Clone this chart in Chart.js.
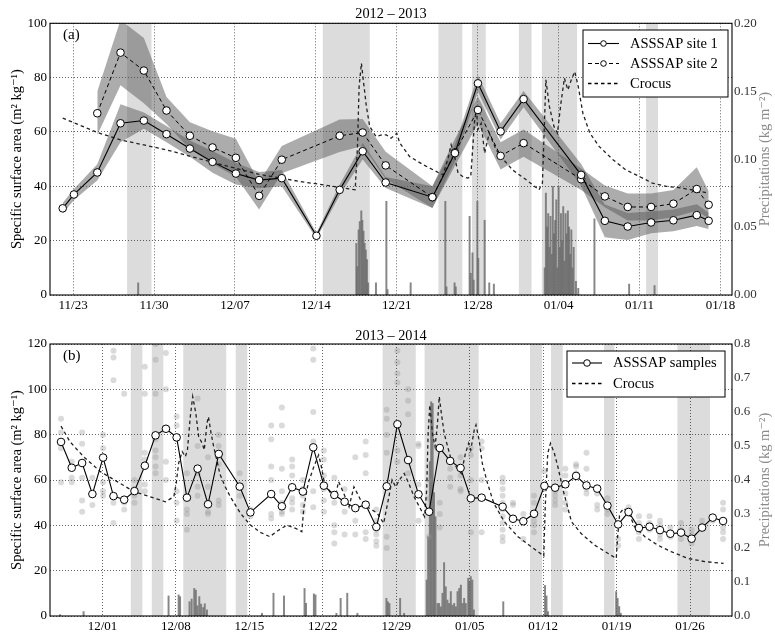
<!DOCTYPE html>
<html><head><meta charset="utf-8">
<script src="https://cdn.jsdelivr.net/npm/chart.js@4.4.1/dist/chart.umd.min.js"></script>
<style>
html,body{margin:0;padding:0;background:#fff;}
#wrap{position:relative;width:775px;height:633px;overflow:hidden;}
canvas{position:absolute;left:0;}
#ca{top:0;} #cb{top:315px;}
</style></head><body>
<div id="wrap"><canvas id="ca" width="775" height="315"></canvas><canvas id="cb" width="775" height="318"></canvas></div>
<script>
// ---------- Panel (a) 2012-2013 : day 0 = 21 Nov 2012 ----------
const tickDaysA = [2, 9, 16, 23, 30, 37, 44, 51, 58];
const tickLabelsA = ['11/23','11/30','12/07','12/14','12/21','12/28','01/04','01/11','01/18'];
const site1Days = [1.1,2.07,4.09,6.1,8.12,10.08,12.1,14.06,16.08,18.09,20.05,23.05,25.06,27.05,29.04,33.08,35.03,37.02,38.98,40.97,45.95,48.0,49.98,52.0,53.93,55.95,56.98];
const site1Vals = [31.9,37.0,45.1,63.2,64.2,59.2,53.9,49.0,44.7,42.3,43.0,21.8,38.7,52.9,41.4,36.0,52.2,77.9,60.2,72.1,44.2,27.3,25.2,26.7,27.5,29.4,27.3];
const site1Err  = [2,2,3,7,3,3,3,4,4,3,3,1,2,3,2,4,3,3,3,3,4,6,5,4,4,4,3];
const site2Days = [4.09,6.1,8.12,10.08,12.1,14.06,16.08,18.09,20.05,25.06,27.05,29.04,33.08,35.03,37.02,38.98,40.97,45.95,48.0,49.98,52.0,53.93,55.95,56.98];
const site2Vals = [66.9,89.2,82.6,67.9,58.6,54.3,50.5,36.5,49.8,58.6,59.8,47.7,36.0,52.5,68.1,51.2,55.9,42.6,36.3,32.4,32.4,33.6,39.0,33.2];
const site2Err  = [8,12,12,5,5,6,7,5,5,6,5,5,4,5,5,5,5,4,4,5,5,5,8,5];
const crocusA = [[1.1,65.1],[4.1,59.8],[6.1,57.1],[10.1,53.4],[14.1,48.8],[18.1,44.4],[21.6,41.8],[24.5,40.0],[26.4,38.7],[26.6,54.7],[26.74,76.7],[26.94,85.3],[27.1,79.2],[27.37,69.4],[27.66,62.0],[28.2,58.3],[28.7,58.9],[29.1,58.9],[29.5,57.7],[30.0,59.5],[30.25,56.0],[31.1,51.0],[32.3,47.9],[33.4,45.5],[34.0,44.2],[34.4,49.8],[34.7,55.3],[35.0,51.0],[35.3,44.9],[35.7,43.6],[36.15,43.0],[36.4,43.6],[36.74,64.5],[36.9,68.1],[37.0,60.8],[37.3,63.2],[37.6,52.2],[38.0,59.6],[38.6,53.4],[39.2,50.0],[40.0,46.1],[41.2,42.4],[42.3,38.7],[42.6,41.2],[42.9,79.2],[43.2,69.4],[43.6,62.0],[43.9,59.6],[44.2,70.6],[44.5,79.8],[44.8,75.5],[45.1,79.2],[45.4,82.2],[45.7,76.7],[46.1,66.9],[46.7,59.6],[47.5,54.7],[48.7,49.8],[49.8,46.1],[51.0,43.6],[52.1,41.2],[53.3,40.0],[54.4,39.5],[55.8,38.5],[57.0,37.5]];
const precipA = [[7.63,0.009],[26.5,0.038],[26.58,0.021],[26.7,0.048],[26.8,0.054],[26.93,0.062],[27.02,0.055],[27.12,0.047],[27.22,0.038],[27.32,0.033],[27.42,0.026],[27.52,0.009],[28.2,0.009],[29.1,0.069],[29.2,0.004],[31.2,0.009],[34.2,0.069],[34.3,0.006],[35.0,0.009],[35.1,0.006],[36.3,0.058],[36.4,0.016],[36.55,0.031],[36.65,0.011],[36.97,0.069],[37.05,0.027],[37.6,0.055],[38.0,0.009],[38.4,0.008],[42.8,0.02],[42.9,0.075],[43.0,0.05],[43.1,0.06],[43.2,0.035],[43.3,0.058],[43.4,0.03],[43.5,0.08],[43.6,0.045],[43.7,0.055],[43.8,0.07],[43.9,0.02],[44.0,0.08],[44.1,0.035],[44.2,0.06],[44.3,0.04],[44.4,0.065],[44.5,0.025],[44.6,0.06],[44.7,0.045],[44.8,0.062],[44.9,0.05],[45.0,0.03],[45.1,0.048],[45.2,0.02],[45.3,0.035],[45.5,0.01],[45.7,0.005],[47.1,0.056],[50.1,0.008],[52.3,0.007]];
const shadeA = [[6.67,8.78],[23.6,27.66],[33.6,35.67],[36.5,37.7],[40.56,41.66],[42.55,45.6],[51.57,52.6]];

// ---------- Panel (b) 2013-2014 : day 0 = 26 Nov 2013 ----------
const tickDaysB = [5, 12, 19, 26, 33, 40, 47, 54, 61];
const tickLabelsB = ['12/01','12/08','12/15','12/22','12/29','01/05','01/12','01/19','01/26'];
const sampleDaysB = [1.05,2.07,3.06,4.04,5.06,6.05,7.07,8.05,9.04,10.06,11.05,12.07,13.05,14.07,15.06,16.08,18.08,19.1,21.08,22.1,23.08,24.1,25.09,26.1,27.1,28.08,29.1,30.09,31.1,32.09,33.11,34.13,35.12,36.13,37.15,38.14,39.13,40.11,41.14,43.14,44.13,45.11,46.13,47.12,48.14,49.12,50.14,51.13,52.15,53.13,54.15,55.14,56.13,57.14,58.14,59.12,60.14,61.15,62.15,63.16,64.15];
const sampleMeanB = [76.8,65.4,67.5,53.8,69.9,52.9,51.3,55.1,66.3,79.7,82.6,78.8,52.2,65.0,49.3,71.5,57.1,45.7,53.8,48.4,56.8,54.9,74.4,57.5,53.4,50.4,47.6,49.1,39.3,57.2,84.6,68.8,53.7,46.0,74.1,68.4,65.3,51.9,52.2,48.2,42.9,41.8,45.1,57.4,56.6,58.1,61.8,57.6,56.2,48.7,40.4,45.9,38.8,39.4,37.9,36.3,36.8,34.1,39.0,43.4,41.9];
const sampleValsB = [[87,81,74,59],[68,61,59],[81,76,61,51,46],[61,49],[80,74,59,55,53],[117,114,104,50,41],[98,50,47],[60,56,53,50],[110,98,72,69,58,55],[120,113,98,78,73,70,66,63],[116,100,68,60],[88,84,78,55,50,42],[63,47,45,38],[96,75,63,57,53],[70,57,50,46,45],[80,75,71,67,51,49],[63,53],[47,44],[84,78,66,60,45,43],[92,84,65,55,50,46,45],[69,66,62,52,50,47],[60,56,53,49,46],[118,113,90,77,55,48],[73,69,62,56,51,46],[61,50,40,37,32],[56,46,36],[70,48,42,36],[77,71,63,37,34],[47,42,38,36,33,31],[91,87,80,72,35,30],[117,112,107,103,73,68],[100,95,89,63],[76,75,58,42],[60,52,35],[50,45,39],[65,61,57],[70,62,56,55],[74,71,60,37],[77,74,60,37],[61,59,56,53,50,47,44,41,38,35,33],[50,49],[45,34],[53,50,42,40,37],[64,56],[55,53,51,49],[65,62,54,50,47],[67,66,63],[72,65,56,54],[54,49,47],[52,47,45],[34,31],[48,45],[44,41,37,34],[44,41,38],[42,40,36,34],[39,35],[41,38,34],[38,36,32],[42,40],[42],[50,47,42,39,37,34]];
const crocusB = [[1.05,83.8],[1.9,76.9],[3.2,70.3],[4.8,63.7],[6.4,59.3],[8.0,54.9],[9.55,52.6],[11.0,50.4],[11.8,52.6],[12.03,58.5],[12.26,67.4],[12.6,72.5],[12.9,70.3],[13.1,73.2],[13.37,87.9],[13.6,96.8],[13.9,89.4],[14.17,79.1],[14.5,76.2],[14.7,73.2],[14.96,85.0],[15.1,87.9],[15.35,80.6],[15.6,74.7],[15.9,68.8],[16.2,62.5],[16.7,57.0],[17.19,52.6],[18.15,45.3],[19.1,40.1],[20.1,36.8],[20.95,35.0],[21.8,37.9],[22.6,40.1],[23.4,38.7],[24.0,37.2],[24.2,48.2],[24.6,58.5],[25.15,65.9],[25.6,71.0],[25.8,67.4],[26.1,60.0],[26.74,54.1],[27.2,52.6],[27.5,59.3],[28.0,54.1],[28.5,48.2],[28.97,57.0],[29.6,51.2],[30.2,48.2],[30.7,46.8],[31.2,45.3],[31.8,40.9],[32.3,52.6],[32.6,60.0],[32.95,57.0],[33.3,60.0],[33.75,62.9],[34.2,58.5],[34.7,52.6],[35.2,48.2],[35.7,43.8],[35.9,55.6],[36.04,80.6],[36.2,93.1],[36.45,80.6],[36.7,74.7],[36.93,85.0],[37.1,96.8],[37.3,89.4],[37.57,80.6],[37.9,74.7],[38.2,69.6],[38.7,65.9],[39.2,62.9],[39.6,71.8],[39.9,76.2],[40.1,73.2],[40.43,82.0],[40.6,84.3],[40.9,77.6],[41.2,67.4],[41.7,58.5],[42.3,49.7],[43.3,41.6],[44.6,35.0],[45.85,30.6],[47.06,26.5],[47.2,48.2],[47.44,71.8],[47.7,76.2],[48.07,71.8],[48.4,65.9],[48.9,55.6],[49.7,41.6],[50.6,36.5],[51.9,31.3],[53.2,27.6],[53.97,25.4],[54.1,35.0],[54.3,45.3],[54.7,47.5],[55.2,45.3],[55.7,39.4],[56.7,35.0],[57.9,31.3],[59.2,28.4],[60.8,25.4],[62.4,24.0],[64.2,23.2]];
const precipB = [[0.96,0.004],[3.2,0.013],[11.3,0.059],[12.26,0.062],[12.4,0.057],[13.3,0.042],[13.5,0.05],[13.75,0.081],[13.9,0.076],[14.05,0.03],[14.23,0.057],[14.4,0.035],[14.6,0.025],[14.75,0.036],[14.96,0.018],[20.2,0.008],[21.3,0.067],[22.3,0.059],[24.26,0.081],[24.4,0.037],[25.15,0.065],[25.3,0.062],[27.3,0.008],[27.7,0.052],[28.33,0.067],[29.3,0.008],[32.06,0.052],[32.2,0.042],[32.35,0.037],[33.37,0.052],[33.75,0.008],[35.9,0.106],[36.04,0.233],[36.2,0.454],[36.33,0.63],[36.47,0.625],[36.6,0.363],[36.74,0.292],[36.93,0.037],[37.08,0.037],[37.25,0.027],[37.4,0.067],[37.56,0.157],[37.72,0.086],[37.88,0.047],[38.04,0.037],[38.2,0.072],[38.36,0.032],[38.52,0.037],[38.68,0.027],[38.84,0.072],[39.0,0.081],[39.16,0.091],[39.32,0.037],[39.47,0.052],[39.63,0.037],[39.86,0.111],[39.98,0.1],[40.1,0.116],[40.25,0.106],[40.4,0.018],[43.2,0.042],[47.18,0.09],[47.32,0.059],[47.46,0.013],[53.96,0.072],[54.1,0.052],[54.25,0.028],[54.4,0.008]];
const shadeB = [[7.7,8.8],[9.7,10.8],[12.7,16.8],[17.7,18.8],[31.7,34.86],[35.7,40.85],[45.75,46.9],[47.75,48.87],[52.8,53.8],[59.8,62.9]];

// ---------- drawing ----------
const FONT = '"Liberation Serif", "DejaVu Serif", "Times New Roman", serif';
const pts = (days, vals) => days.map((d, i) => ({x: d, y: vals[i]}));
const pairs = arr => arr.map(p => ({x: p[0], y: p[1]}));
const BAND = 'rgba(90,90,90,0.5)';

const decor = {
  id: 'decor',
  beforeDraw(chart, args, o) {
    const {ctx, chartArea: a, scales: {x}} = chart;
    ctx.save();
    ctx.fillStyle = '#dcdcdc';
    for (const [s, e] of o.shade) {
      const x0 = Math.max(a.left, x.getPixelForValue(s));
      const x1 = Math.min(a.right, x.getPixelForValue(e));
      ctx.fillRect(x0, a.top, x1 - x0, a.bottom - a.top);
    }
    ctx.restore();
  },
  afterDraw(chart, args, o) {
    const {ctx, chartArea: a} = chart;
    ctx.save();
    ctx.strokeStyle = '#000'; ctx.lineWidth = 1.1; ctx.setLineDash([]);
    ctx.strokeRect(a.left, a.top, a.right - a.left, a.bottom - a.top);
    // panel label
    ctx.fillStyle = '#000'; ctx.font = '15px ' + FONT; ctx.textBaseline = 'middle'; ctx.textAlign = 'left';
    ctx.fillText(o.panel, a.left + 13, a.top + 12);
    // right axis title
    ctx.save();
    ctx.translate(765, (a.top + a.bottom) / 2);
    ctx.rotate(-Math.PI / 2);
    ctx.textAlign = 'center'; ctx.fillStyle = '#8a8a8a'; ctx.font = '14.5px ' + FONT;
    ctx.fillText('Precipitations (kg m\u207B\u00B2)', 0, 0);
    ctx.restore();
    // legend
    const L = o.legend;
    ctx.fillStyle = '#fff'; ctx.fillRect(L.box[0], L.box[1], L.box[2] - L.box[0], L.box[3] - L.box[1]);
    ctx.strokeStyle = '#000'; ctx.lineWidth = 1; ctx.strokeRect(L.box[0], L.box[1], L.box[2] - L.box[0], L.box[3] - L.box[1]);
    for (const it of L.items) {
      ctx.strokeStyle = '#000'; ctx.lineWidth = it.w; ctx.setLineDash(it.dash);
      ctx.beginPath(); ctx.moveTo(L.lx[0], it.y); ctx.lineTo(L.lx[1], it.y); ctx.stroke();
      ctx.setLineDash([]);
      if (it.marker) {
        ctx.beginPath(); ctx.arc((L.lx[0] + L.lx[1]) / 2, it.y, L.r, 0, Math.PI * 2);
        ctx.fillStyle = '#fff'; ctx.fill(); ctx.lineWidth = 1; ctx.stroke();
      }
      ctx.fillStyle = '#000'; ctx.font = '14.5px ' + FONT; ctx.textAlign = 'left'; ctx.textBaseline = 'middle';
      ctx.fillText(it.label, L.tx, it.y + 0.5);
    }
    ctx.restore();
  }
};

function xScale(max, ticks, labels, h) {
  return {
    type: 'linear', min: 0, max: max, offset: false,
    afterBuildTicks: s => { s.ticks = ticks.map(v => ({value: v})); },
    afterFit: s => { s.height = h; },
    ticks: {autoSkip: false, maxRotation: 0, padding: 3, color: '#000', font: {family: FONT, size: 13},
            callback: v => labels[ticks.indexOf(v)]},
    grid: {offset: false, drawTicks: false, color: 'rgba(0,0,0,0.75)', lineWidth: 0.8},
    border: {display: false, dash: [1, 2]}
  };
}
function yScale(max) {
  return {
    type: 'linear', position: 'left', min: 0, max: max,
    afterFit: s => { s.width = 50; },
    ticks: {stepSize: 20, padding: 3, color: '#000', font: {family: FONT, size: 13}},
    grid: {drawTicks: false, color: 'rgba(0,0,0,0.75)', lineWidth: 0.8},
    border: {display: false, dash: [1, 2]},
    title: {display: true, text: 'Specific surface area (m\u00B2 kg\u207B\u00B9)', color: '#000',
            font: {family: FONT, size: 14.5}, padding: {top: 8.3, bottom: 0}}
  };
}
function y2Scale(max, step, dec) {
  return {
    type: 'linear', position: 'right', min: 0, max: max,
    afterFit: s => { s.width = 43; },
    ticks: {stepSize: step, padding: 2, color: '#333', font: {family: FONT, size: 13}, callback: v => v.toFixed(dec)},
    grid: {display: false, drawTicks: false},
    border: {display: false}
  };
}
function titleOpt(text, top, bottom) {
  return {display: true, text: text, fullSize: false, color: '#000',
          font: {family: FONT, size: 14.3, weight: 'normal', lineHeight: 1}, padding: {top: top, bottom: bottom}};
}
const common = {responsive: false, animation: false, devicePixelRatio: 1, events: [], layout: {padding: 0}};

// ---- chart (a) ----
new Chart(document.getElementById('ca'), {
  type: 'line',
  data: {datasets: [
    {type: 'bar', data: pairs(precipA), yAxisID: 'y2', barThickness: 1.3, grouped: false,
     backgroundColor: 'rgba(105,105,105,0.8)', order: 10},
    {data: pts(site2Days, site2Vals.map((v, i) => v + site2Err[i])), borderWidth: 0, pointRadius: 0, fill: false, order: 8},
    {data: pts(site2Days, site2Vals.map((v, i) => v - site2Err[i])), borderWidth: 0, pointRadius: 0, fill: '-1', backgroundColor: BAND, order: 8},
    {data: pts(site1Days, site1Vals.map((v, i) => v + site1Err[i])), borderWidth: 0, pointRadius: 0, fill: false, order: 7},
    {data: pts(site1Days, site1Vals.map((v, i) => v - site1Err[i])), borderWidth: 0, pointRadius: 0, fill: '-1', backgroundColor: BAND, order: 7},
    {data: pairs(crocusA), borderColor: '#222', borderWidth: 1.3, borderDash: [3.5, 3], pointRadius: 0, fill: false, order: 3},
    {data: pts(site2Days, site2Vals), borderColor: '#000', borderWidth: 1, borderDash: [4, 3], pointRadius: 3.8,
     pointBackgroundColor: '#fff', pointBorderColor: '#000', pointBorderWidth: 1, fill: false, order: 2},
    {data: pts(site1Days, site1Vals), borderColor: '#000', borderWidth: 1.1, pointRadius: 3.8,
     pointBackgroundColor: '#fff', pointBorderColor: '#000', pointBorderWidth: 1, fill: false, order: 1}
  ]},
  options: Object.assign({}, common, {
    scales: {x: xScale(59, tickDaysA, tickLabelsA, 20), y: yScale(100), y2: y2Scale(0.2, 0.05, 2)},
    plugins: {
      legend: {display: false}, tooltip: {enabled: false},
      title: titleOpt('2012 \u2013 2013', 7, 2),
      decor: {shade: shadeA, panel: '(a)', legend: {box: [583, 30, 728, 97], lx: [588, 619], r: 2.8, tx: 630, items: [
        {label: 'ASSSAP site 1', dash: [], w: 1.1, marker: true, y: 43.5},
        {label: 'ASSSAP site 2', dash: [4, 3], w: 1, marker: true, y: 63.5},
        {label: 'Crocus', dash: [3.5, 3], w: 1.3, marker: false, y: 83.5}]}}
    }
  }),
  plugins: [decor]
});

// ---- chart (b) ----
const scatterB = [];
sampleDaysB.forEach((d, i) => sampleValsB[i].forEach(v => scatterB.push({x: d, y: v})));
new Chart(document.getElementById('cb'), {
  type: 'line',
  data: {datasets: [
    {type: 'bar', data: pairs(precipB), yAxisID: 'y2', barThickness: 1.3, grouped: false,
     backgroundColor: 'rgba(105,105,105,0.8)', order: 10},
    {data: scatterB, showLine: false, pointRadius: 3, pointBorderWidth: 0,
     pointBackgroundColor: 'rgba(150,150,150,0.35)', order: 9},
    {data: pairs(crocusB), borderColor: '#222', borderWidth: 1.3, borderDash: [3.5, 3], pointRadius: 0, fill: false, order: 3},
    {data: pts(sampleDaysB, sampleMeanB), borderColor: '#000', borderWidth: 1.1, pointRadius: 3.8,
     pointBackgroundColor: '#fff', pointBorderColor: '#000', pointBorderWidth: 1, fill: false, order: 1}
  ]},
  options: Object.assign({}, common, {
    scales: {x: xScale(65, tickDaysB, tickLabelsB, 17), y: yScale(120), y2: y2Scale(0.8, 0.1, 1)},
    plugins: {
      legend: {display: false}, tooltip: {enabled: false},
      title: titleOpt('2013 \u2013 2014', 14.5, 0.2),
      decor: {shade: shadeB, panel: '(b)', legend: {box: [567, 36, 725, 82], lx: [572, 602], r: 3.3, tx: 613, items: [
        {label: 'ASSSAP samples', dash: [], w: 1.1, marker: true, y: 48},
        {label: 'Crocus', dash: [3.5, 3], w: 1.3, marker: false, y: 68.5}]}}
    }
  }),
  plugins: [decor]
});
</script>
</body></html>
